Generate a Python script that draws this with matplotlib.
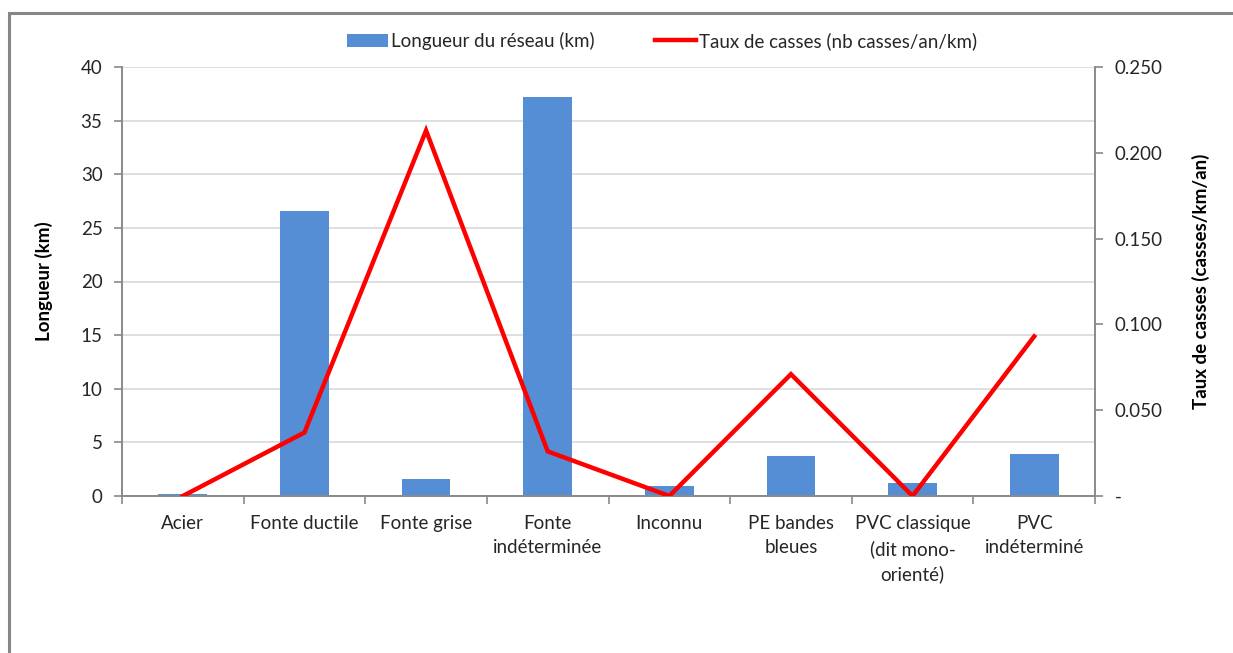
import matplotlib.pyplot as plt
from matplotlib.patches import Rectangle
from matplotlib.ticker import FixedLocator, FuncFormatter

# network length and break rate per pipe material
materials = ["Acier", "Fonte ductile", "Fonte grise", "Fonte\nindéterminée", "Inconnu",
             "PE bandes\nbleues", "PVC classique\n(dit mono-\norienté)", "PVC\nindéterminé"]
length_km = [0.2, 26.6, 1.6, 37.2, 0.9, 3.7, 1.2, 3.9]
break_rate = [0.0, 0.037, 0.213, 0.026, 0.0, 0.071, 0.0, 0.093]

plt.rcParams['font.family'] = ['Lato', 'DejaVu Sans']
axis_grey = "#898989"
text_col = "#262626"
fs = 13.5

fig = plt.figure(figsize=(12.33, 6.53), dpi=100)
ax = fig.add_axes([122 / 1233, 1 - 496 / 653, (1095 - 122) / 1233, (496 - 67) / 653])
ax2 = ax.twinx()

x = list(range(len(materials)))
ax.bar(x, length_km, width=0.4, color="#558ED5", zorder=2, label="Longueur du réseau (km)")
ax2.plot(x, break_rate, color="#FF0000", lw=3.2, solid_joinstyle="miter",
         label="Taux de casses (nb casses/an/km)", zorder=3)

ax.set_xlim(-0.5, len(materials) - 0.5)
ax.set_ylim(0, 40)
ax.set_yticks(range(0, 41, 5))
ax2.set_ylim(0, 0.25)
ax2.set_yticks([0, 0.05, 0.1, 0.15, 0.2, 0.25])
ax2.yaxis.set_major_formatter(FuncFormatter(lambda v, p: "-" if v == 0 else f"{v:.3f}"))

ax.yaxis.grid(True, color="#D9D9D9", lw=1.2, zorder=0)
ax.set_axisbelow(True)

# category labels centred, ticks on the category boundaries
ax.set_xticks(x)
ax.set_xticklabels(materials, fontsize=fs, color=text_col, linespacing=1.5, va="top")
ax.tick_params(axis="x", length=0, pad=14)
ax.xaxis.set_minor_locator(FixedLocator([i - 0.5 for i in range(len(materials) + 1)]))
ax.tick_params(axis="x", which="minor", length=6, color=axis_grey, width=1.2)

ax.tick_params(axis="y", labelsize=fs, labelcolor=text_col, length=6, color=axis_grey, width=1.2, pad=8)
ax2.tick_params(axis="y", labelsize=fs, labelcolor=text_col, length=6, color=axis_grey, width=1.2, pad=8)

for a in (ax, ax2):
    a.spines["top"].set_visible(False)
    for side in ("left", "right", "bottom"):
        a.spines[side].set_color(axis_grey)
        a.spines[side].set_linewidth(1.2)

ax.set_ylabel("Longueur (km)", fontsize=fs, fontweight="bold", color="black", labelpad=20)
ax2.set_ylabel("Taux de casses (casses/km/an)", fontsize=fs, fontweight="bold", color="black", labelpad=21)

h1, l1 = ax.get_legend_handles_labels()
h2, l2 = ax2.get_legend_handles_labels()
fig.legend(h1 + h2, l1 + l2, loc="center", bbox_to_anchor=(662 / 1233, 1 - 41 / 653), ncol=2,
           frameon=False, fontsize=fs, handlelength=2.2, handletextpad=0.15, columnspacing=3.2,
           labelcolor=text_col)

# outer chart frame
fig.patches.append(Rectangle((9 / 1233, -0.1), 1.2, 1 - 13 / 653 + 0.1, transform=fig.transFigure,
                             fill=False, edgecolor="#878787", lw=2.2))

fig.savefig("out.png", dpi=100, facecolor="white")
